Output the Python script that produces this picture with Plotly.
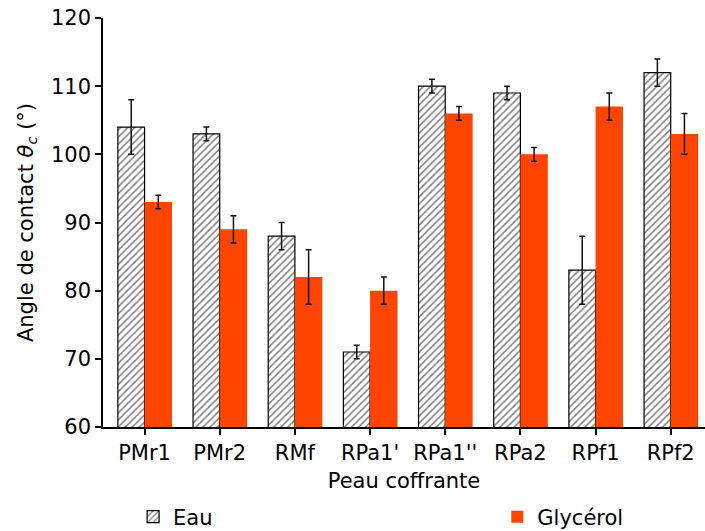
import plotly.graph_objects as go

categories = ["PMr1", "PMr2", "RMf", "RPa1'", "RPa1''", "RPa2", "RPf1", "RPf2"]
eau = [104, 103, 88, 71, 110, 109, 83, 112]
eau_err = [4, 1, 2, 1, 1, 1, 5, 2]
glycerol = [93, 89, 82, 80, 106, 100, 107, 103]
glycerol_err = [1, 2, 4, 2, 1, 1, 2, 3]

FONT = "DejaVu Sans"
FS = 21
x_idx = list(range(len(categories)))

fig = go.Figure()
fig.add_trace(go.Bar(
    x=x_idx, y=eau, name="Eau", width=0.355, offset=-0.355,
    marker=dict(color="white", line=dict(color="black", width=1.2),
                pattern=dict(shape="/", fgcolor="black", bgcolor="white", size=5, solidity=0.3)),
    error_y=dict(type="data", array=eau_err, color="#111", thickness=1.5, width=3),
    legend="legend",
))
fig.add_trace(go.Bar(
    x=x_idx, y=glycerol, name="Glycérol", width=0.365, offset=0,
    marker=dict(color="#ff4500", line=dict(width=0)),
    error_y=dict(type="data", array=glycerol_err, color="#111", thickness=1.5, width=3),
    legend="legend2",
))

fig.update_layout(
    width=705, height=531,
    margin=dict(l=103, r=0, t=18, b=104, autoexpand=False),
    plot_bgcolor="white", paper_bgcolor="white",
    font=dict(family=FONT, size=FS, color="black"),
    barmode="overlay",
    showlegend=True,
    legend=dict(x=0.05, y=-0.22, xanchor="left", yanchor="middle",
                font=dict(size=FS), bgcolor="rgba(0,0,0,0)"),
    legend2=dict(x=0.655, y=-0.22, xanchor="left", yanchor="middle",
                 font=dict(size=FS), bgcolor="rgba(0,0,0,0)"),
)
fig.update_xaxes(
    range=[-0.553, 7.456], tickmode="array", tickvals=x_idx, ticktext=categories,
    showline=True, linecolor="black", linewidth=1.5, ticks="outside", ticklen=6,
    tickwidth=1.5, tickcolor="black", showgrid=False, zeroline=False,
    title=dict(text="Peau coffrante", font=dict(size=FS), standoff=9),
    tickfont=dict(size=FS), automargin=False, ticklabeloverflow="allow",
)
fig.update_yaxes(
    range=[60, 120], dtick=10, showline=True, linecolor="black", linewidth=1.5,
    ticks="outside", ticklen=6, tickwidth=1.5, tickcolor="black",
    showgrid=False, zeroline=False,
    title=dict(text="Angle de contact <i>θ<sub>c</sub></i> (°)", font=dict(size=FS), standoff=12),
    tickfont=dict(size=FS), automargin=False, ticklabeloverflow="allow",
)

fig.write_html("out.html", config={"displayModeBar": False},
               post_script="document.body.style.margin='0px';")
